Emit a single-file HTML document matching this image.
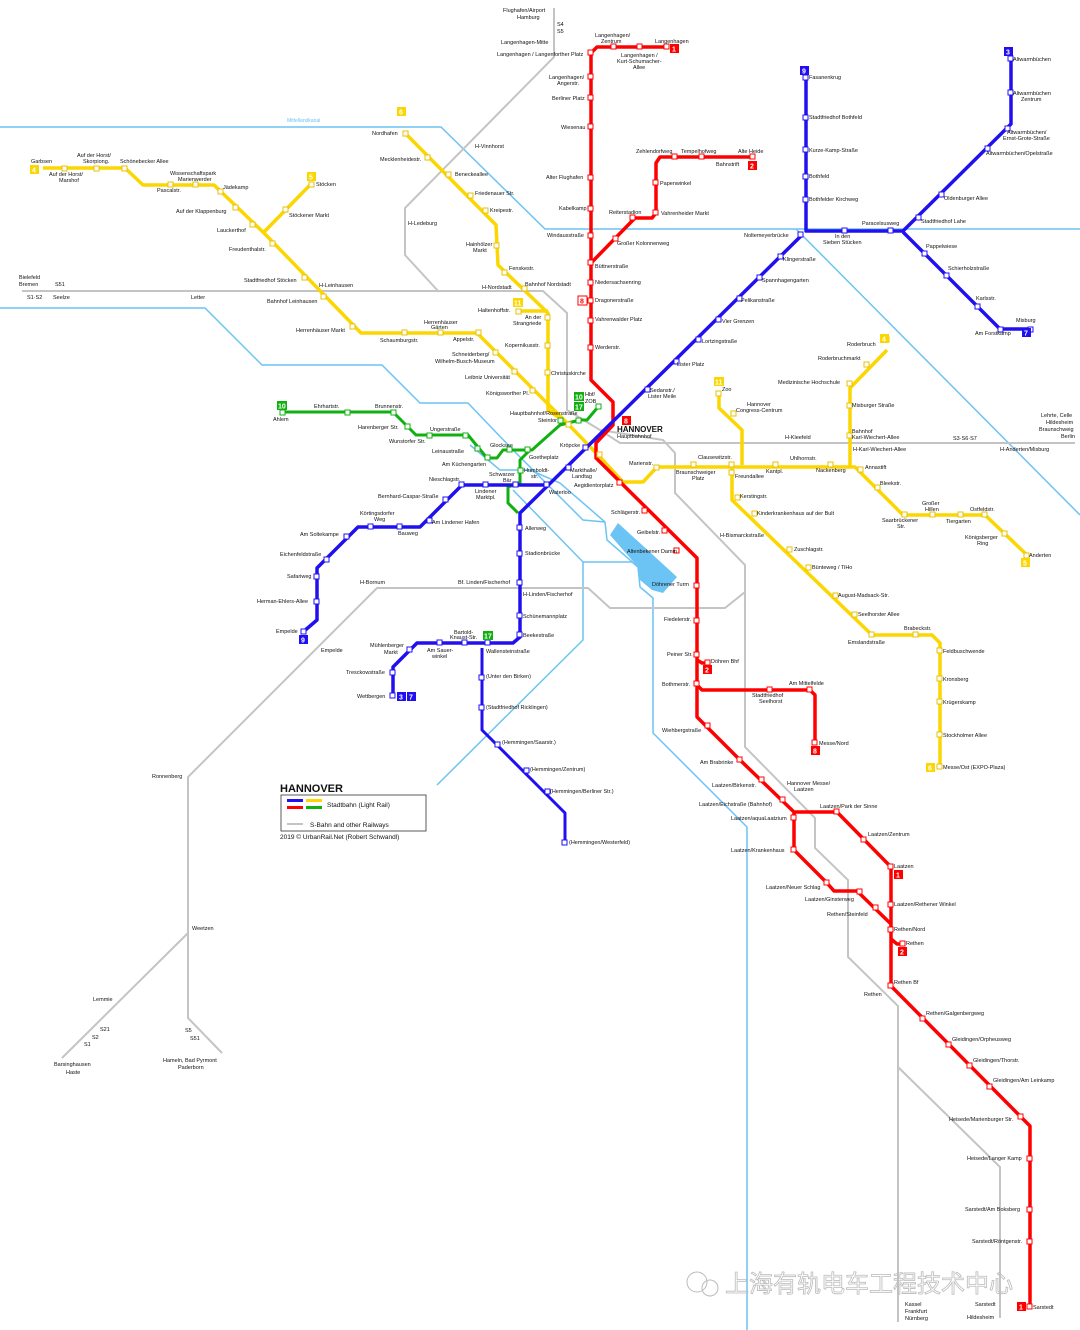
<!DOCTYPE html>
<html><head><meta charset="utf-8">
<style>
html,body{margin:0;padding:0;background:#fff}
svg{display:block}
text{font-family:"Liberation Sans",sans-serif;font-size:5.5px;fill:#111}
.n{font-size:6px}
.w{fill:#0bf;}
</style></head><body>
<svg width="1080" height="1330" viewBox="0 0 1080 1330" xmlns="http://www.w3.org/2000/svg">
<rect width="1080" height="1330" fill="#fff"/>
<!-- water -->
<g fill="none" stroke="#6cc4f4" stroke-width="1.5">
<path d="M0,127 H441 L545,229 H1080"/>
<path d="M796,229 L1080,515"/>
<path d="M0,308 H205 L262,365 H382 L420,403 H468 L489,425 L513,450 L560,497 L583,520 L605,522"/>
<path d="M470,445 L500,470 H530 L560,483 L605,522 L607,540 L638,567 L640,587 L653,598 V733 L747,827 V1330"/>
<path d="M513,490 L583,562 V640 L437,785"/>
<path d="M583,562 H632 L638,567"/>
</g>
<path d="M610,535 L618,523 L677,577 L663,593 L652,590 L640,580 L638,567 Z" fill="#6cc4f4"/>
<text x="287" y="122" style="fill:#6cc4f4;font-size:5px">Mittellandkanal</text>
<!-- railways -->
<g fill="none" stroke="#c4c4c4" stroke-width="2">
<path d="M22,291 H543 L567,313 V410 L600,430 L620,443 H1075"/>
<path d="M554,8 V57 L405,208 V255 L439,292"/>
<path d="M600,430 L663,440 L675,453 V493 L745,565 V747 L815,818 V848 L848,880 V957 L898,1006 V1322"/>
<path d="M745,565 V592 L725,608 H610 L588,588 H377 L188,777 V1018 L222,1053"/>
<path d="M188,933 L62,1058"/>
<path d="M898,1067 L1000,1167 V1318"/>
</g>
<!-- yellow -->
<g fill="none" stroke="#fcd600" stroke-width="3.5" stroke-linejoin="round">
<path d="M43,168 H125 L143,185 H214 L264,233 L361,333 H477 L567,423 L600,457 L623,482 H643 L657,467 H855 L903,515 H985 L1027,555"/>
<path d="M311,184 L264,232"/>
<path d="M405,133 L496,225 L498,265 L548,313 V410 L567,423"/>
<path d="M518,311 H548"/>
<path d="M719,393 V408 L742,430 V465"/>
<path d="M887,350 L850,388 V466"/>
<path d="M732,465 V500 L872,635 H932 L940,643 V767"/>
</g>
<!-- green -->
<g fill="none" stroke="#10b010" stroke-width="3" stroke-linejoin="round">
<path d="M282,412 H393 L416,435 H468 L487,458 H497 L503,450 H532 L560,425 L580,420 H587 L598,407"/>
<path d="M530,450 L520,460 V483 L508,487 V503 L518,513"/>
</g>
<!-- red -->
<g fill="none" stroke="#f00" stroke-width="3.5" stroke-linejoin="round">
<path d="M667,47 H597 L591,53 V380 L613,402 V425 L596,443 V458 L697,558 V717 L740,760 L794,812 H837 L891,867 V986 L1021,1117 L1030,1126 V1309"/>
<path d="M592,262 L635,218 H652 L656,213 V163 L660,157 H753"/>
<path d="M697,685 L702,690 H810 L815,695 V743"/>
<path d="M697,660 L702,663 H707"/>
<path d="M794,812 V850 L827,883 L834,891 H857 L891,924"/>
<path d="M891,939 L897,944 H903"/>
</g>
<!-- blue -->
<g fill="none" stroke="#2010f0" stroke-width="3.5" stroke-linejoin="round">
<path d="M806,77 V231 H903 L1011,124 V59"/>
<path d="M903,232 L1000,329 H1031"/>
<path d="M801,236 L520,513 V637 L513,643 H417 L410,650 L393,667 V696"/>
<path d="M547,485 H462 L420,527 H358 L317,568 V620 L303,632"/>
<path d="M482,648 V730 L565,813 V843" stroke-width="3"/>
</g>
<!-- stations -->
<g fill="#fff" stroke-width="1">
<g stroke="#f00">
<rect x="588" y="50" width="5" height="5"/><rect x="611" y="44" width="5" height="5"/><rect x="637" y="44" width="5" height="5"/><rect x="664" y="44" width="5" height="5"/>
<rect x="588" y="74" width="5" height="5"/><rect x="588" y="95" width="5" height="5"/><rect x="588" y="124" width="5" height="5"/><rect x="588" y="175" width="5" height="5"/><rect x="588" y="206" width="5" height="5"/><rect x="588" y="233" width="5" height="5"/><rect x="588" y="260" width="5" height="5"/><rect x="588" y="280" width="5" height="5"/><rect x="588" y="298" width="5" height="5"/><rect x="588" y="318" width="5" height="5"/><rect x="588" y="345" width="5" height="5"/>
<rect x="613" y="236" width="5" height="5"/><rect x="630" y="215" width="5" height="5"/><rect x="653" y="180" width="5" height="5"/><rect x="653" y="210" width="5" height="5"/><rect x="672" y="154" width="5" height="5"/><rect x="699" y="154" width="5" height="5"/><rect x="750" y="154" width="5" height="5"/>
<rect x="617" y="480" width="5" height="5"/><rect x="642" y="508" width="5" height="5"/><rect x="662" y="528" width="5" height="5"/><rect x="674" y="548" width="5" height="5"/><rect x="694" y="583" width="5" height="5"/><rect x="694" y="618" width="5" height="5"/><rect x="694" y="652" width="5" height="5"/><rect x="705" y="660" width="5" height="5"/><rect x="694" y="681" width="5" height="5"/><rect x="767" y="687" width="5" height="5"/><rect x="807" y="687" width="5" height="5"/><rect x="812" y="740" width="5" height="5"/>
<rect x="705" y="723" width="5" height="5"/><rect x="737" y="757" width="5" height="5"/><rect x="759" y="777" width="5" height="5"/><rect x="780" y="797" width="5" height="5"/><rect x="791" y="815" width="5" height="5"/><rect x="791" y="847" width="5" height="5"/><rect x="834" y="809" width="5" height="5"/><rect x="861" y="837" width="5" height="5"/><rect x="888" y="864" width="5" height="5"/><rect x="888" y="902" width="5" height="5"/><rect x="888" y="927" width="5" height="5"/><rect x="900" y="941" width="5" height="5"/><rect x="888" y="983" width="5" height="5"/><rect x="824" y="880" width="5" height="5"/><rect x="857" y="889" width="5" height="5"/><rect x="873" y="905" width="5" height="5"/>
<rect x="920" y="1016" width="5" height="5"/><rect x="946" y="1042" width="5" height="5"/><rect x="967" y="1063" width="5" height="5"/><rect x="987" y="1084" width="5" height="5"/><rect x="1018" y="1114" width="5" height="5"/><rect x="1027" y="1156" width="5" height="5"/><rect x="1027" y="1207" width="5" height="5"/><rect x="1027" y="1239" width="5" height="5"/><rect x="1027" y="1304" width="5" height="5"/>
</g>
<g stroke="#2010f0">
<rect x="803" y="75" width="5" height="5"/><rect x="803" y="115" width="5" height="5"/><rect x="803" y="147" width="5" height="5"/><rect x="803" y="174" width="5" height="5"/><rect x="803" y="197" width="5" height="5"/><rect x="798" y="232" width="5" height="5"/><rect x="842" y="228" width="5" height="5"/><rect x="888" y="228" width="5" height="5"/>
<rect x="1008" y="56" width="5" height="5"/><rect x="1008" y="90" width="5" height="5"/><rect x="1005" y="126" width="5" height="5"/><rect x="985" y="146" width="5" height="5"/><rect x="939" y="192" width="5" height="5"/><rect x="916" y="215" width="5" height="5"/><rect x="922" y="251" width="5" height="5"/><rect x="944" y="273" width="5" height="5"/><rect x="975" y="304" width="5" height="5"/><rect x="998" y="327" width="5" height="5"/><rect x="1028" y="327" width="5" height="5"/>
<rect x="778" y="254" width="5" height="5"/><rect x="757" y="275" width="5" height="5"/><rect x="737" y="296" width="5" height="5"/><rect x="716" y="317" width="5" height="5"/><rect x="696" y="337" width="5" height="5"/><rect x="674" y="359" width="5" height="5"/><rect x="645" y="387" width="5" height="5"/><rect x="583" y="445" width="5" height="5"/><rect x="566" y="465" width="5" height="5"/><rect x="544" y="482" width="5" height="5"/>
<rect x="517" y="525" width="5" height="5"/><rect x="517" y="551" width="5" height="5"/><rect x="517" y="580" width="5" height="5"/><rect x="517" y="613" width="5" height="5"/><rect x="517" y="632" width="5" height="5"/><rect x="485" y="640" width="5" height="5"/><rect x="462" y="640" width="5" height="5"/><rect x="437" y="640" width="5" height="5"/><rect x="407" y="647" width="5" height="5"/><rect x="390" y="670" width="5" height="5"/><rect x="390" y="693" width="5" height="5"/>
<rect x="479" y="675" width="5" height="5"/><rect x="479" y="705" width="5" height="5"/><rect x="495" y="742" width="5" height="5"/><rect x="524" y="768" width="5" height="5"/><rect x="545" y="789" width="5" height="5"/><rect x="562" y="840" width="5" height="5"/>
<rect x="513" y="482" width="5" height="5"/><rect x="483" y="482" width="5" height="5"/><rect x="459" y="482" width="5" height="5"/><rect x="443" y="497" width="5" height="5"/><rect x="427" y="518" width="5" height="5"/><rect x="397" y="524" width="5" height="5"/><rect x="368" y="524" width="5" height="5"/><rect x="344" y="534" width="5" height="5"/><rect x="324" y="557" width="5" height="5"/><rect x="314" y="574" width="5" height="5"/><rect x="314" y="599" width="5" height="5"/><rect x="301" y="629" width="5" height="5"/>
</g>
<g stroke="#e8c000">
<rect x="32" y="166" width="5" height="5"/><rect x="62" y="166" width="5" height="5"/><rect x="94" y="166" width="5" height="5"/><rect x="122" y="166" width="5" height="5"/><rect x="168" y="182" width="5" height="5"/><rect x="193" y="182" width="5" height="5"/><rect x="218" y="189" width="5" height="5"/><rect x="233" y="205" width="5" height="5"/><rect x="250" y="222" width="5" height="5"/><rect x="270" y="241" width="5" height="5"/><rect x="302" y="275" width="5" height="5"/><rect x="321" y="294" width="5" height="5"/><rect x="350" y="324" width="5" height="5"/><rect x="402" y="330" width="5" height="5"/><rect x="438" y="330" width="5" height="5"/><rect x="476" y="330" width="5" height="5"/><rect x="493" y="350" width="5" height="5"/><rect x="512" y="369" width="5" height="5"/><rect x="530" y="388" width="5" height="5"/>
<rect x="309" y="182" width="5" height="5"/><rect x="283" y="207" width="5" height="5"/>
<rect x="403" y="131" width="5" height="5"/><rect x="425" y="155" width="5" height="5"/><rect x="446" y="172" width="5" height="5"/><rect x="468" y="193" width="5" height="5"/><rect x="483" y="208" width="5" height="5"/><rect x="494" y="243" width="5" height="5"/><rect x="502" y="270" width="5" height="5"/><rect x="522" y="286" width="5" height="5"/><rect x="516" y="309" width="5" height="5"/><rect x="545" y="315" width="5" height="5"/><rect x="545" y="343" width="5" height="5"/><rect x="545" y="370" width="5" height="5"/>
<rect x="566" y="422" width="5" height="5"/><rect x="597" y="452" width="5" height="5"/><rect x="654" y="465" width="5" height="5"/><rect x="691" y="462" width="5" height="5"/><rect x="729" y="462" width="5" height="5"/><rect x="773" y="462" width="5" height="5"/><rect x="828" y="462" width="5" height="5"/><rect x="858" y="467" width="5" height="5"/><rect x="875" y="485" width="5" height="5"/><rect x="902" y="512" width="5" height="5"/><rect x="930" y="512" width="5" height="5"/><rect x="958" y="512" width="5" height="5"/><rect x="982" y="512" width="5" height="5"/><rect x="1002" y="531" width="5" height="5"/><rect x="1024" y="553" width="5" height="5"/>
<rect x="716" y="391" width="5" height="5"/><rect x="731" y="411" width="5" height="5"/><rect x="729" y="470" width="5" height="5"/><rect x="735" y="495" width="5" height="5"/><rect x="752" y="511" width="5" height="5"/><rect x="787" y="547" width="5" height="5"/><rect x="806" y="565" width="5" height="5"/><rect x="833" y="593" width="5" height="5"/><rect x="852" y="612" width="5" height="5"/><rect x="869" y="632" width="5" height="5"/><rect x="913" y="632" width="5" height="5"/>
<rect x="937" y="648" width="5" height="5"/><rect x="937" y="676" width="5" height="5"/><rect x="937" y="699" width="5" height="5"/><rect x="937" y="732" width="5" height="5"/><rect x="937" y="764" width="5" height="5"/>
<rect x="884" y="337" width="5" height="5"/><rect x="864" y="362" width="5" height="5"/><rect x="847" y="381" width="5" height="5"/><rect x="847" y="403" width="5" height="5"/><rect x="847" y="433" width="5" height="5"/>
</g>
<g stroke="#10b010">
<rect x="280" y="410" width="5" height="5"/><rect x="345" y="410" width="5" height="5"/><rect x="391" y="410" width="5" height="5"/><rect x="405" y="424" width="5" height="5"/><rect x="427" y="433" width="5" height="5"/><rect x="463" y="433" width="5" height="5"/><rect x="475" y="446" width="5" height="5"/><rect x="485" y="455" width="5" height="5"/><rect x="507" y="447" width="5" height="5"/><rect x="525" y="447" width="5" height="5"/><rect x="518" y="468" width="5" height="5"/><rect x="558" y="418" width="5" height="5"/><rect x="576" y="418" width="5" height="5"/><rect x="596" y="404" width="5" height="5"/>
</g>
</g>
<!-- line badges -->
<g font-family="Liberation Sans" font-size="7" font-weight="bold">
<rect x="670" y="44" width="9" height="9" fill="#f00"/><text x="672" y="51.5" style="fill:#fff;font-size:7px">1</text>
<rect x="748" y="161" width="9" height="9" fill="#f00"/><text x="750" y="168.5" style="fill:#fff;font-size:7px">2</text>
<rect x="578" y="296" width="9" height="9" fill="#fff" stroke="#f00"/><text x="580" y="303.5" style="fill:#f00;font-size:7px">8</text>
<rect x="622" y="416" width="9" height="9" fill="#f00"/><text x="624" y="423.5" style="fill:#fff;font-size:7px">8</text>
<rect x="703" y="665" width="9" height="9" fill="#f00"/><text x="705" y="672.5" style="fill:#fff;font-size:7px">2</text>
<rect x="811" y="746" width="9" height="9" fill="#f00"/><text x="813" y="753.5" style="fill:#fff;font-size:7px">8</text>
<rect x="894" y="870" width="9" height="9" fill="#f00"/><text x="896" y="877.5" style="fill:#fff;font-size:7px">1</text>
<rect x="898" y="947" width="9" height="9" fill="#f00"/><text x="900" y="954.5" style="fill:#fff;font-size:7px">2</text>
<rect x="1017" y="1302" width="9" height="9" fill="#f00"/><text x="1019" y="1309.5" style="fill:#fff;font-size:7px">1</text>
<rect x="800" y="66" width="9" height="9" fill="#2010f0"/><text x="802" y="73.5" style="fill:#fff;font-size:7px">9</text>
<rect x="1004" y="47" width="9" height="9" fill="#2010f0"/><text x="1006" y="54.5" style="fill:#fff;font-size:7px">3</text>
<rect x="1022" y="328" width="9" height="9" fill="#2010f0"/><text x="1024" y="335.5" style="fill:#fff;font-size:7px">7</text>
<rect x="299" y="635" width="9" height="9" fill="#2010f0"/><text x="301" y="642.5" style="fill:#fff;font-size:7px">9</text>
<rect x="397" y="692" width="9" height="9" fill="#2010f0"/><text x="399" y="699.5" style="fill:#fff;font-size:7px">3</text>
<rect x="407" y="692" width="9" height="9" fill="#2010f0"/><text x="409" y="699.5" style="fill:#fff;font-size:7px">7</text>
<rect x="30" y="165" width="9" height="9" fill="#fcd600"/><text x="32" y="172.5" style="fill:#fff;font-size:7px">4</text>
<rect x="307" y="172" width="9" height="9" fill="#fcd600"/><text x="309" y="179.5" style="fill:#fff;font-size:7px">5</text>
<rect x="397" y="107" width="9" height="9" fill="#fcd600"/><text x="399" y="114.5" style="fill:#fff;font-size:7px">6</text>
<rect x="513" y="298" width="10" height="9" fill="#fcd600"/><text x="514" y="305.5" style="fill:#fff;font-size:7px">11</text>
<rect x="714" y="377" width="10" height="9" fill="#fcd600"/><text x="715" y="384.5" style="fill:#fff;font-size:7px">11</text>
<rect x="880" y="334" width="9" height="9" fill="#fcd600"/><text x="882" y="341.5" style="fill:#fff;font-size:7px">4</text>
<rect x="1021" y="558" width="9" height="9" fill="#fcd600"/><text x="1023" y="565.5" style="fill:#fff;font-size:7px">5</text>
<rect x="926" y="763" width="9" height="9" fill="#fcd600"/><text x="928" y="770.5" style="fill:#fff;font-size:7px">6</text>
<rect x="277" y="401" width="10" height="9" fill="#10b010"/><text x="278" y="408.5" style="fill:#fff;font-size:7px">10</text>
<rect x="574" y="392" width="10" height="9" fill="#10b010"/><text x="575" y="399.5" style="fill:#fff;font-size:7px">10</text>
<rect x="574" y="402" width="10" height="9" fill="#10b010"/><text x="575" y="409.5" style="fill:#fff;font-size:7px">17</text>
<rect x="483" y="631" width="10" height="9" fill="#10b010"/><text x="484" y="638.5" style="fill:#fff;font-size:7px">17</text>
</g>
<!-- labels -->
<g>
<text x="503" y="12">Flughafen/Airport</text><text x="517" y="19">Hamburg</text>
<text x="557" y="26">S4</text><text x="557" y="33">S5</text>
<text x="501" y="44">Langenhagen-Mitte</text><text x="497" y="56">Langenhagen / Langenforther Platz</text>
<text x="595" y="37">Langenhagen/</text><text x="601" y="43">Zentrum</text><text x="655" y="43">Langenhagen</text>
<text x="621" y="57">Langenhagen /</text><text x="617" y="63">Kurt-Schumacher-</text><text x="633" y="69">Allee</text>
<text x="549" y="79">Langenhagen/</text><text x="557" y="85">Angerstr.</text>
<text x="552" y="100">Berliner Platz</text><text x="561" y="129">Wiesenau</text><text x="546" y="179">Alter Flughafen</text><text x="559" y="210">Kabelkamp</text><text x="547" y="237">Windausstraße</text>
<text x="636" y="153">Zehlendorfweg</text><text x="681" y="153">Tempelhofweg</text><text x="738" y="153">Alte Heide</text><text x="716" y="166">Bahnstrift</text>
<text x="660" y="185">Papenwinkel</text><text x="609" y="214">Reiterstadion</text><text x="661" y="215">Vahrenheider Markt</text><text x="617" y="245">Großer Kolonnenweg</text>
<text x="595" y="268">Büttnerstraße</text><text x="595" y="284">Niedersachsenring</text><text x="595" y="302">Dragonerstraße</text><text x="595" y="321">Vahrenwalder Platz</text><text x="595" y="349">Werderstr.</text>
<text x="809" y="79">Fasanenkrug</text><text x="809" y="119">Stadtfriedhof Bothfeld</text><text x="809" y="152">Kurze-Kamp-Straße</text><text x="809" y="178">Bothfeld</text><text x="809" y="201">Bothfelder Kirchweg</text>
<text x="744" y="237">Noltemeyerbrücke</text><text x="835" y="238">In den</text><text x="823" y="244">Sieben Stücken</text><text x="862" y="225">Paracelsusweg</text>
<text x="1013" y="61">Altwarmbüchen</text><text x="1013" y="95">Altwarmbüchen</text><text x="1021" y="101">Zentrum</text>
<text x="1007" y="134">Altwarmbüchen/</text><text x="1003" y="140">Ernst-Grote-Straße</text><text x="986" y="155">Altwarmbüchen/Opelstraße</text>
<text x="944" y="200">Oldenburger Allee</text><text x="921" y="223">Stadtfriedhof Lahe</text><text x="926" y="248">Pappelwiese</text><text x="948" y="270">Schierholzstraße</text><text x="976" y="300">Karlsstr.</text><text x="1016" y="322">Misburg</text><text x="975" y="335">Am Forstkamp</text>
<text x="783" y="261">Klingerstraße</text><text x="762" y="282">Spannhagengarten</text><text x="741" y="302">Pelikanstraße</text><text x="722" y="323">Vier Grenzen</text><text x="702" y="343">Lortzingstraße</text><text x="677" y="366">Lister Platz</text><text x="650" y="392">Sedanstr./</text><text x="648" y="398">Lister Meile</text>
<text x="617" y="432" style="font-size:8px;font-weight:bold">HANNOVER</text><text x="617" y="438">Hauptbahnhof</text>
<text x="585" y="396">Hbf/</text><text x="585" y="403">ZOB</text>
<text x="372" y="135">Nordhafen</text><text x="380" y="161">Mecklenheidestr.</text><text x="455" y="176">Beneckeallee</text><text x="475" y="195">Friedenauer Str.</text><text x="490" y="212">Kreipestr.</text>
<text x="466" y="246">Hainhölzer</text><text x="473" y="252">Markt</text><text x="509" y="270">Fenskestr.</text><text x="482" y="289">H-Nordstadt</text><text x="525" y="286">Bahnhof Nordstadt</text>
<text x="475" y="148">H-Vinnhorst</text><text x="408" y="225">H-Ledeburg</text>
<text x="478" y="312">Haltenhoffstr.</text><text x="525" y="319">An der</text><text x="513" y="325">Strangriede</text><text x="505" y="347">Kopernikusstr.</text><text x="551" y="375">Christuskirche</text>
<text x="424" y="324">Herrenhäuser</text><text x="431" y="329">Gärten</text><text x="453" y="341">Appelstr.</text><text x="380" y="342">Schaumburgstr.</text>
<text x="452" y="356">Schneiderberg/</text><text x="435" y="363">Wilhelm-Busch-Museum</text><text x="465" y="379">Leibniz Universität</text><text x="486" y="395">Königsworther Pl.</text>
<text x="510" y="415">Hauptbahnhof/Rosenstraße</text><text x="538" y="422">Steintor</text>
<text x="31" y="163">Garbsen</text><text x="77" y="157">Auf der Horst/</text><text x="83" y="163">Skorpiong.</text><text x="120" y="163">Schönebecker Allee</text>
<text x="49" y="176">Auf der Horst/</text><text x="59" y="182">Marshof</text><text x="157" y="192">Pascalstr.</text><text x="170" y="175">Wissenschaftspark</text><text x="178" y="181">Marienwerder</text>
<text x="223" y="189">Jädekamp</text><text x="176" y="213">Auf der Klappenburg</text><text x="217" y="232">Lauckerthof</text><text x="229" y="251">Freudenthalstr.</text>
<text x="316" y="186">Stöcken</text><text x="289" y="217">Stöckener Markt</text>
<text x="19" y="279">Bielefeld</text><text x="19" y="286">Bremen</text><text x="55" y="286">S51</text><text x="27" y="299">S1·S2</text><text x="53" y="299">Seelze</text><text x="191" y="299">Letter</text>
<text x="244" y="282">Stadtfriedhof Stöcken</text><text x="319" y="287">H-Leinhausen</text><text x="267" y="303">Bahnhof Leinhausen</text><text x="296" y="332">Herrenhäuser Markt</text>
<text x="314" y="408">Ehrhartstr.</text><text x="375" y="408">Brunnenstr.</text><text x="273" y="421">Ahlem</text><text x="358" y="429">Harenberger Str.</text><text x="389" y="443">Wunstorfer Str.</text><text x="430" y="431">Ungerstraße</text>
<text x="432" y="453">Leinaustraße</text><text x="442" y="466">Am Küchengarten</text><text x="490" y="447">Glocksee</text><text x="529" y="459">Goetheplatz</text><text x="524" y="472">Humboldt-</text><text x="531" y="478">str.</text>
<text x="489" y="476">Schwarzer</text><text x="503" y="482">Bär</text><text x="560" y="447">Kröpcke</text><text x="570" y="472">Markthalle/</text><text x="572" y="478">Landtag</text><text x="574" y="487">Aegidientorplatz</text>
<text x="429" y="481">Nieschlagstr.</text><text x="475" y="493">Lindener</text><text x="476" y="499">Marktpl.</text><text x="549" y="494">Waterloo</text>
<text x="378" y="498">Bernhard-Caspar-Straße</text><text x="360" y="515">Körtingsdorfer</text><text x="374" y="521">Weg</text><text x="432" y="524">Am Lindener Hafen</text><text x="398" y="535">Bauweg</text>
<text x="300" y="536">Am Soltekampe</text><text x="280" y="556">Eichenfeldstraße</text><text x="287" y="578">Safariweg</text><text x="257" y="603">Herman-Ehlers-Allee</text><text x="276" y="633">Empelde</text><text x="321" y="652">Empelde</text>
<text x="525" y="530">Allerweg</text><text x="525" y="555">Stadionbrücke</text><text x="458" y="584">Bf. Linden/Fischerhof</text><text x="360" y="584">H-Bornum</text>
<text x="523" y="596">H-Linden/Fischerhof</text><text x="523" y="618">Schünemannplatz</text><text x="523" y="637">Beekestraße</text><text x="486" y="653">Wallensteinstraße</text>
<text x="454" y="634">Bartold-</text><text x="450" y="639">Knaust-Str.</text><text x="370" y="647">Mühlenberger</text><text x="384" y="654">Markt</text><text x="427" y="652">Am Sauer-</text><text x="432" y="658">winkel</text>
<text x="346" y="674">Tresckowstraße</text><text x="357" y="698">Wettbergen</text>
<text x="486" y="678">(Unter den Birken)</text><text x="486" y="709">(Stadtfriedhof Ricklingen)</text><text x="502" y="744">(Hemmingen/Saarstr.)</text><text x="530" y="771">(Hemmingen/Zentrum)</text><text x="550" y="793">(Hemmingen/Berliner Str.)</text><text x="569" y="844">(Hemmingen/Westerfeld)</text>
<text x="152" y="778">Ronnenberg</text><text x="192" y="930">Weetzen</text><text x="93" y="1001">Lemmie</text><text x="100" y="1031">S21</text><text x="92" y="1039">S2</text><text x="84" y="1046">S1</text><text x="185" y="1032">S5</text><text x="190" y="1040">S51</text>
<text x="54" y="1066">Barsinghausen</text><text x="66" y="1074">Haste</text><text x="163" y="1062">Hameln, Bad Pyrmont</text><text x="178" y="1069">Paderborn</text>
<text x="280" y="792" style="font-size:11px;font-weight:bold">HANNOVER</text>
<text x="280" y="839" style="font-size:6.5px">2019 © UrbanRail.Net (Robert Schwandl)</text>
<text x="629" y="465">Marienstr.</text><text x="676" y="474">Braunschweiger</text><text x="692" y="480">Platz</text><text x="698" y="459">Clausewitzstr.</text><text x="735" y="478">Freundallee</text><text x="766" y="473">Kantpl.</text><text x="790" y="460">Uhlhornstr.</text><text x="816" y="472">Nackenberg</text>
<text x="611" y="514">Schlägerstr.</text><text x="637" y="534">Geibelstr.</text><text x="627" y="553">Altenbekener Damm</text><text x="652" y="586">Döhrener Turm</text>
<text x="664" y="621">Fiedelerstr.</text><text x="667" y="656">Peiner Str.</text><text x="711" y="663">Döhren Bhf</text><text x="662" y="686">Bothmerstr.</text>
<text x="789" y="685">Am Mittelfelde</text><text x="752" y="697">Stadtfriedhof</text><text x="759" y="703">Seelhorst</text><text x="819" y="745">Messe/Nord</text>
<text x="662" y="732">Wiehbergstraße</text><text x="700" y="764">Am Brabrinke</text><text x="712" y="787">Laatzen/Birkenstr.</text><text x="699" y="806">Laatzen/Eichstraße (Bahnhof)</text><text x="731" y="820">Laatzen/aquaLaatzium</text><text x="731" y="852">Laatzen/Krankenhaus</text>
<text x="787" y="785">Hannover Messe/</text><text x="794" y="791">Laatzen</text><text x="820" y="808">Laatzen/Park der Sinne</text><text x="868" y="836">Laatzen/Zentrum</text><text x="894" y="868">Laatzen</text>
<text x="766" y="889">Laatzen/Neuer Schlag</text><text x="805" y="901">Laatzen/Ginsterweg</text><text x="827" y="916">Rethen/Steinfeld</text><text x="894" y="906">Laatzen/Rethener Winkel</text><text x="894" y="931">Rethen/Nord</text><text x="906" y="945">Rethen</text>
<text x="894" y="984">Rethen Bf</text><text x="864" y="996">Rethen</text><text x="926" y="1015">Rethen/Galgenbergweg</text><text x="952" y="1041">Gleidingen/Orpheusweg</text><text x="973" y="1062">Gleidingen/Thorstr.</text><text x="993" y="1082">Gleidingen/Am Leinkamp</text>
<text x="949" y="1121">Heisede/Marienburger Str.</text><text x="967" y="1160">Heisede/Langer Kamp</text><text x="965" y="1211">Sarstedt/Am Boksberg</text><text x="972" y="1243">Sarstedt/Röntgenstr.</text>
<text x="975" y="1306">Sarstedt</text><text x="967" y="1319">Hildesheim</text><text x="1033" y="1309">Sarstedt</text><text x="905" y="1306">Kassel</text><text x="905" y="1313">Frankfurt</text><text x="905" y="1320">Nürnberg</text>
<text x="722" y="391">Zoo</text><text x="747" y="406">Hannover</text><text x="736" y="412">Congress-Centrum</text><text x="785" y="439">H-Kleefeld</text>
<text x="847" y="346">Roderbruch</text><text x="818" y="360">Roderbruchmarkt</text><text x="778" y="384">Medizinische Hochschule</text><text x="852" y="407">Misburger Straße</text>
<text x="852" y="433">Bahnhof</text><text x="852" y="439">Karl-Wiechert-Allee</text><text x="853" y="451">H-Karl-Wiechert-Allee</text><text x="953" y="440">S3·S6·S7</text><text x="1000" y="451">H-Anderten/Misburg</text>
<text x="1041" y="417">Lehrte, Celle</text><text x="1046" y="424">Hildesheim</text><text x="1039" y="431">Braunschweig</text><text x="1061" y="438">Berlin</text>
<text x="865" y="469">Annastift</text><text x="880" y="485">Bleekstr.</text><text x="922" y="505">Großer</text><text x="925" y="511">Hillen</text><text x="970" y="511">Ostfeldstr.</text><text x="882" y="522">Saarbrückener</text><text x="897" y="528">Str.</text><text x="946" y="523">Tiergarten</text><text x="965" y="539">Königsberger</text><text x="977" y="545">Ring</text><text x="1029" y="557">Anderten</text>
<text x="740" y="498">Kerstingstr.</text><text x="757" y="515">Kinderkrankenhaus auf der Bult</text><text x="720" y="537">H-Bismarckstraße</text><text x="794" y="551">Zuschlagstr.</text><text x="812" y="569">Bünteweg / TiHo</text>
<text x="838" y="597">August-Madsack-Str.</text><text x="858" y="616">Seelhorster Allee</text><text x="848" y="644">Emslandstraße</text><text x="904" y="630">Brabeckstr.</text>
<text x="943" y="653">Feldbuschwende</text><text x="943" y="681">Kronsberg</text><text x="943" y="704">Krügerskamp</text><text x="943" y="737">Stockholmer Allee</text><text x="943" y="769">Messe/Ost (EXPO-Plaza)</text>
</g>
<!-- legend -->
<rect x="281" y="795" width="145" height="36" fill="#fff" stroke="#333" stroke-width="0.8"/>
<rect x="287" y="799" width="16" height="3" fill="#2010f0"/><rect x="306" y="799" width="16" height="3" fill="#fcd600"/>
<rect x="287" y="806" width="16" height="3" fill="#f00"/><rect x="306" y="806" width="16" height="3" fill="#10b010"/>
<rect x="287" y="823" width="16" height="2" fill="#c4c4c4"/>
<text x="327" y="807" style="font-size:6.5px">Stadtbahn (Light Rail)</text>
<text x="310" y="827" style="font-size:6.5px">S-Bahn and other Railways</text>
<!-- watermark -->
<text x="725" y="1292" style="font-family:'Noto Sans CJK SC',sans-serif;font-size:24px;fill:none;stroke:#bbb;stroke-width:0.8">上海有轨电车工程技术中心</text>
<circle cx="697" cy="1282" r="10" fill="none" stroke="#bbb"/><circle cx="710" cy="1288" r="8" fill="none" stroke="#bbb"/>
</svg>
</body></html>
